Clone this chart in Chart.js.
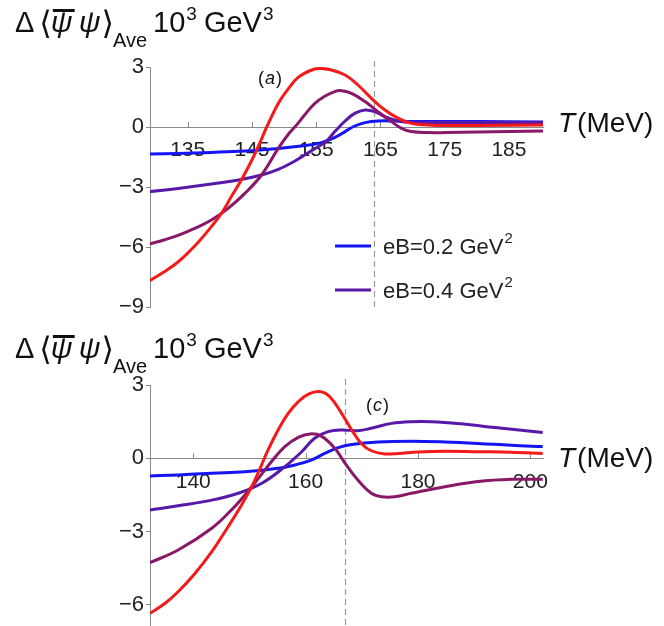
<!DOCTYPE html>
<html><head><meta charset="utf-8">
<script src="https://cdn.jsdelivr.net/npm/chart.js@4/dist/chart.umd.min.js"></script>
<style>
html,body{margin:0;padding:0;background:#fff;}
body{width:664px;height:626px;overflow:hidden;position:relative;}
canvas{position:absolute;left:0;}
</style>
</head><body>
<canvas id="c1" width="664" height="320" style="top:0"></canvas>
<canvas id="c2" width="664" height="306" style="top:320px"></canvas>
<script>
// ---------- tick labels ----------
const topXTicks = [135, 145, 155, 165, 175, 185];
const topYTicks = [-9, -6, -3, 0, 3];
const botXTicks = [140, 160, 180, 200];
const botYTicks = [-6, -3, 0, 3];
const legendLabels = ['eB=0.2 GeV', 'eB=0.4 GeV'];

// ---------- panel (a) ----------
const topT_blue = [129.1,133.5,138.7,143.9,149.1,153.2,155.8,157.9,159.5,161.0,162.6,164.6,167.2,169.8,180.2,190.3];
const topV_blue = [-1.35,-1.32,-1.27,-1.2,-1.07,-0.93,-0.78,-0.52,-0.23,0.05,0.22,0.3,0.3,0.28,0.27,0.25];
const topT_purple = [129.1,133.5,138.7,142.9,146.5,149.1,151.7,154.3,156.6,157.9,159.5,161.0,162.6,164.1,165.7,167.8,169.8,175.0,190.3];
const topV_purple = [-3.23,-3.07,-2.85,-2.65,-2.4,-2.12,-1.7,-1.18,-0.7,-0.23,0.3,0.68,0.85,0.77,0.52,0.3,0.23,0.23,0.22];
const topT_maroon = [129.1,131.3,133.5,136.1,138.7,141.3,143.9,146.5,149.1,150.7,152.0,153.2,154.8,156.4,157.9,158.7,160.5,162.6,164.6,166.7,168.3,169.8,172.4,175.0,180.2,190.3];
const topV_maroon = [-5.85,-5.65,-5.42,-5.07,-4.65,-4.07,-3.32,-2.4,-1.07,-0.35,0.12,0.6,1.18,1.55,1.77,1.82,1.68,1.27,0.77,0.27,-0.07,-0.23,-0.28,-0.28,-0.25,-0.2];
const topT_red = [129.1,131.3,133.5,136.1,138.7,140.3,141.8,143.4,145.0,146.3,147.3,149.1,150.7,152.2,154.3,155.6,157.4,159.5,161.5,163.6,165.7,167.8,169.8,172.4,175.0,180.2,190.3];
const topV_red = [-7.68,-7.25,-6.75,-5.95,-4.98,-4.3,-3.48,-2.62,-1.65,-0.75,0,1.18,1.93,2.48,2.85,2.93,2.85,2.6,2.1,1.43,0.85,0.43,0.18,0.1,0.07,0.08,0.1];

// ---------- panel (c) ----------
const botT_blue = [132.3,137.3,143.3,149.2,155.1,158.1,161.0,163.4,165.8,168.2,172.9,178.8,184.8,190.7,196.6,202.2];
const botV_blue = [-0.72,-0.68,-0.61,-0.55,-0.41,-0.27,-0.07,0.2,0.44,0.57,0.67,0.7,0.67,0.61,0.53,0.48];
const botT_purple = [132.3,137.3,143.3,148.0,152.2,156.3,159.3,161.6,164.0,166.4,169.3,171.7,175.3,178.8,182.4,187.7,193.7,202.2];
const botV_purple = [-2.11,-1.94,-1.71,-1.43,-1.02,-0.34,0.27,0.82,1.09,1.16,1.13,1.23,1.43,1.5,1.5,1.41,1.26,1.06];
const botT_maroon = [132.3,137.3,143.3,146.8,149.2,151.6,153.9,156.3,158.7,160.8,162.8,165.2,167.0,169.3,171.7,173.5,175.9,178.8,184.8,190.7,196.6,202.2];
const botV_maroon = [-4.27,-3.75,-2.86,-2.11,-1.5,-0.82,-0.14,0.48,0.86,1.0,0.91,0.41,-0.2,-0.89,-1.43,-1.57,-1.57,-1.43,-1.16,-0.95,-0.86,-0.86];
const botT_red = [132.3,135.0,137.3,140.3,143.3,146.2,148.6,150.4,151.9,153.3,155.1,156.9,158.7,160.5,162.5,164.3,166.4,168.2,169.9,171.7,174.1,176.5,180.0,184.8,190.7,196.6,202.2];
const botV_red = [-6.34,-5.93,-5.46,-4.71,-3.82,-2.8,-1.91,-1.16,-0.41,0.34,1.16,1.84,2.32,2.63,2.73,2.52,1.84,1.16,0.61,0.31,0.18,0.2,0.26,0.29,0.27,0.25,0.2];

const COLORS = { blue: '#1414f5', purple: '#5818a8', maroon: '#8a1868', red: '#f51a1a' };
const FONT = '"Liberation Sans", Arial, Helvetica, sans-serif';
const AXIS = '#8a8a8a';

function pts(T, V) { return T.map((t, i) => ({ x: t, y: V[i] })); }
function ds(label, T, V, color, order) {
  return { label, data: pts(T, V), borderColor: color, backgroundColor: color, borderWidth: 3,
           pointRadius: 0, tension: 0.4, order, fill: false };
}
const minusFmt = v => v < 0 ? '\u2212' + Math.abs(v) : String(v);

function drawTitle(ctx, x, base) {
  ctx.save();
  ctx.fillStyle = '#111'; ctx.textBaseline = 'alphabetic'; ctx.textAlign = 'left';
  ctx.font = '29px ' + FONT; ctx.fillText('\u0394', x, base); x += ctx.measureText('\u0394').width + 5;
  ctx.font = '32px "DejaVu Sans"'; ctx.fillText('\u27E8', x, base + 2); x += ctx.measureText('\u27E8').width - 1;
  ctx.font = 'italic 30px ' + FONT;
  const w1 = ctx.measureText('\u03C8').width;
  ctx.fillText('\u03C8', x, base);
  ctx.fillRect(x + 2, base - 23, w1, 3);
  x += w1 + 6;
  ctx.fillText('\u03C8', x, base); x += ctx.measureText('\u03C8').width + 1;
  ctx.font = '32px "DejaVu Sans"'; ctx.fillText('\u27E9', x, base + 2); x += ctx.measureText('\u27E9').width - 1;
  ctx.font = '20px ' + FONT; ctx.fillText('Ave', x, base + 15); x += ctx.measureText('Ave').width + 6;
  ctx.font = '29px ' + FONT; ctx.fillText('10', x, base); x += ctx.measureText('10').width + 1;
  ctx.font = '19px ' + FONT; ctx.fillText('3', x, base - 12); x += ctx.measureText('3').width + 7;
  ctx.font = '29px ' + FONT; ctx.fillText('GeV', x, base); x += ctx.measureText('GeV').width + 1;
  ctx.font = '19px ' + FONT; ctx.fillText('3', x, base - 12);
  ctx.restore();
}

const decoPlugin = {
  id: 'deco',
  beforeDatasetsDraw(chart, args, o) {
    const { ctx, chartArea } = chart;
    const xs = chart.scales.x, ys = chart.scales.y;
    ctx.save();
    const y0 = ys.getPixelForValue(0);
    ctx.strokeStyle = AXIS; ctx.lineWidth = 1;
    xs.ticks.forEach(t => {
      const px = Math.round(xs.getPixelForValue(t.value)) + 0.5;
      ctx.beginPath(); ctx.moveTo(px, y0); ctx.lineTo(px, y0 - 5); ctx.stroke();
    });
    const dx = Math.round(xs.getPixelForValue(o.dashT)) + 0.5;
    ctx.setLineDash([6, 4]); ctx.strokeStyle = '#9a9a9a'; ctx.lineWidth = 1.2;
    ctx.beginPath(); ctx.moveTo(dx, chartArea.top - 6); ctx.lineTo(dx, chartArea.bottom + 2); ctx.stroke();
    ctx.restore();
  },
  afterDraw(chart, args, o) {
    const { ctx } = chart;
    ctx.save();
    drawTitle(ctx, 15, o.titleBase);
    ctx.fillStyle = '#111'; ctx.textBaseline = 'alphabetic'; ctx.textAlign = 'left';
    ctx.font = 'italic 28px ' + FONT; ctx.fillText('T', o.tLabel[0], o.tLabel[1]);
    let tx = o.tLabel[0] + ctx.measureText('T').width + 2;
    ctx.font = '28px ' + FONT; ctx.fillText('(MeV)', tx, o.tLabel[1]);
    ctx.font = '18px ' + FONT; ctx.fillText('(', o.panel[0], o.panel[1]);
    let px = o.panel[0] + ctx.measureText('(').width + 1;
    ctx.font = 'italic 18px ' + FONT; ctx.fillText(o.panelLetter, px, o.panel[1]);
    px += ctx.measureText(o.panelLetter).width + 1;
    ctx.font = '18px ' + FONT; ctx.fillText(')', px, o.panel[1]);
    if (o.legend) {
      const cols = [COLORS.blue, COLORS.purple];
      legendLabels.forEach((lab, i) => {
        const ly = o.legend.y + i * 44;
        ctx.strokeStyle = cols[i]; ctx.lineWidth = 3;
        ctx.beginPath(); ctx.moveTo(o.legend.x, ly); ctx.lineTo(o.legend.x + 36, ly); ctx.stroke();
        ctx.fillStyle = '#222';
        ctx.font = '22px ' + FONT;
        const lx = o.legend.x + 48;
        ctx.fillText(lab, lx, ly + 8);
        const w = ctx.measureText(lab).width;
        ctx.font = '15px ' + FONT;
        ctx.fillText('2', lx + w + 1, ly - 3);
      });
    }
    ctx.restore();
  }
};

function makeChart(id, datasets, xr, yr, xTicks, yTicks, pad, deco) {
  return new Chart(document.getElementById(id), {
    type: 'line',
    data: { datasets },
    options: {
      responsive: false, animation: false, devicePixelRatio: 1,
      layout: { padding: pad },
      plugins: { legend: { display: false }, tooltip: { enabled: false }, title: { display: false }, deco },
      scales: {
        x: {
          type: 'linear', position: { y: 0 }, min: xr[0], max: xr[1],
          afterBuildTicks: s => { s.ticks = xTicks.map(v => ({ value: v })); },
          grid: { display: true, drawOnChartArea: false, drawTicks: false, color: AXIS },
          border: { display: true, color: AXIS, width: 1 },
          ticks: { font: { size: 21, family: FONT }, color: '#222', padding: 11, maxRotation: 0, autoSkip: false }
        },
        y: {
          type: 'linear', position: 'left', min: yr[0], max: yr[1],
          afterBuildTicks: s => { s.ticks = yTicks.map(v => ({ value: v })); },
          afterFit: s => { s.width = 40; s.paddingTop = 0; s.paddingBottom = 0; },
          grid: { display: true, drawOnChartArea: false, drawTicks: true, tickLength: 4, color: AXIS },
          border: { display: true, color: AXIS, width: 1 },
          ticks: { font: { size: 22, family: FONT }, color: '#222', padding: 2, callback: minusFmt }
        }
      }
    },
    plugins: [decoPlugin]
  });
}

makeChart('c1', [
  ds('eB=0.2', topT_blue, topV_blue, COLORS.blue, 3),
  ds('eB=0.4', topT_purple, topV_purple, COLORS.purple, 2),
  ds('eB=0.6', topT_maroon, topV_maroon, COLORS.maroon, 1),
  ds('eB=0.8', topT_red, topV_red, COLORS.red, 0)
], [129.14, 190.3], [-9, 3], topXTicks, topYTicks,
  { left: 110, right: 121, top: 67, bottom: 13 },
  { titleBase: 32, tLabel: [558, 132], panel: [258, 84], panelLetter: 'a', dashT: 164.0,
    legend: { x: 335, y: 246 } });

makeChart('c2', [
  ds('eB=0.2', botT_blue, botV_blue, COLORS.blue, 3),
  ds('eB=0.4', botT_purple, botV_purple, COLORS.purple, 2),
  ds('eB=0.6', botT_maroon, botV_maroon, COLORS.maroon, 1),
  ds('eB=0.8', botT_red, botV_red, COLORS.red, 0)
], [132.3, 202.25], [-6.86, 3], botXTicks, botYTicks,
  { left: 110, right: 121, top: 65, bottom: 0 },
  { titleBase: 38, tLabel: [558, 147], panel: [366, 91], panelLetter: 'c', dashT: 167.0,
    legend: null });
</script>
</body></html>
